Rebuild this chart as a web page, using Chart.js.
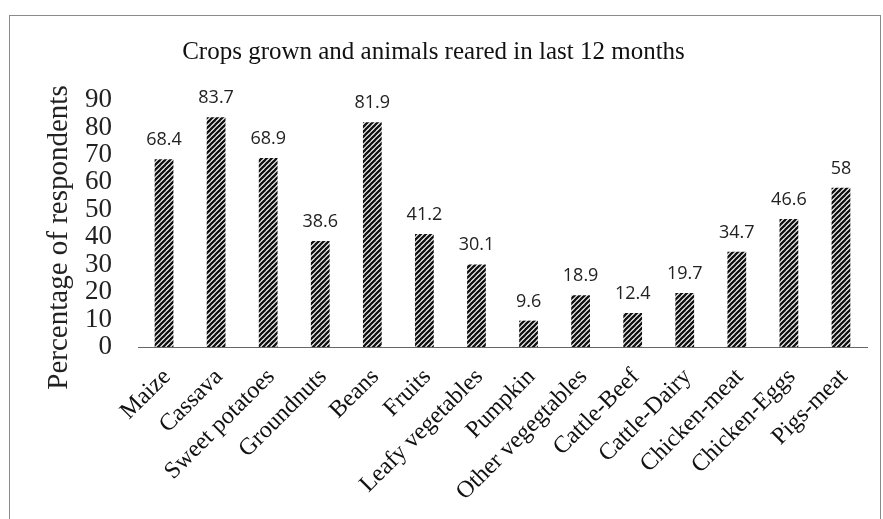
<!DOCTYPE html>
<html><head><meta charset="utf-8">
<script src="https://cdn.jsdelivr.net/npm/chart.js@4/dist/chart.umd.min.js"></script>
<style>
html,body{margin:0;padding:0;background:#fff;}
#wrap{position:relative;width:883px;height:519px;overflow:hidden;}
#frame{position:absolute;left:9px;top:15px;width:872px;height:600px;border:1px solid #8a8a8a;box-sizing:border-box;}
canvas{position:absolute;left:0;top:0;}
</style></head>
<body><div id="wrap"><div id="frame"></div><canvas id="c" width="883" height="519"></canvas></div>
<script>
const categories = ["Maize","Cassava","Sweet potatoes","Groundnuts","Beans","Fruits","Leafy vegetables","Pumpkin","Other vegegtables","Cattle-Beef","Cattle-Dairy","Chicken-meat","Chicken-Eggs","Pigs-meat"];
const percentages = [68.4,83.7,68.9,38.6,81.9,41.2,30.1,9.6,18.9,12.4,19.7,34.7,46.6,58];
const valueLabels = ["68.4","83.7","68.9","38.6","81.9","41.2","30.1","9.6","18.9","12.4","19.7","34.7","46.6","58"];
const yTicks = [0,10,20,30,40,50,60,70,80,90];
const yTitle = "Percentage of respondents";

function hatch(){
  const s=5, p=document.createElement('canvas'); p.width=s; p.height=s;
  const g=p.getContext('2d'); g.fillStyle='#fff'; g.fillRect(0,0,s,s);
  g.strokeStyle='#111'; g.lineWidth=2.3; g.lineCap='square';
  for(const o of [-s,0,s]){ g.beginPath(); g.moveTo(o,s); g.lineTo(o+s,0); g.stroke(); }
  return g.createPattern(p,'repeat');
}
const ctx=document.getElementById('c').getContext('2d');
const labelPlugin={id:'vals',afterDatasetsDraw(chart){
  const c=chart.ctx; const meta=chart.getDatasetMeta(0);
  c.save(); c.font='18px "Open Sans"'; c.fillStyle='#222'; c.textAlign='center'; c.textBaseline='alphabetic';
  meta.data.forEach((b,i)=>{ c.fillText(valueLabels[i], b.x, b.y-14); });
  c.restore();
  const a=chart.chartArea;
  c.save(); c.font='29px "Liberation Serif"'; c.fillStyle='#222'; c.textAlign='center'; c.textBaseline='middle';
  c.translate(59,(a.top+a.bottom)/2+14); c.rotate(-Math.PI/2); c.fillText(yTitle,0,0); c.restore();
}};
new Chart(ctx,{
  type:'bar',
  data:{labels:categories,datasets:[{data:percentages,backgroundColor:hatch(),borderWidth:0,categoryPercentage:1,barPercentage:0.36}]},
  options:{
    responsive:false,animation:false,
    layout:{padding:{left:0,right:16,top:37,bottom:0}},
    plugins:{legend:{display:false},tooltip:{enabled:false},
      title:{display:true,text:'Crops grown and animals reared in last 12 months',color:'#111',font:{family:'Liberation Serif',size:25,weight:'normal',lineHeight:1.2},padding:{top:0,bottom:33}}},
    scales:{
      y:{min:0,max:90,afterBuildTicks(s){s.ticks=yTicks.map(v=>({value:v}));},
        afterFit(s){s.width=138;},
        grid:{display:false,drawTicks:false},border:{display:false},
        ticks:{color:'#222',font:{family:'Liberation Serif',size:27},padding:26,autoSkip:false}},
      x:{afterFit(s){s.height=172;},
        grid:{display:false},border:{display:true,color:'#666',width:1},
        ticks:{color:'#111',font:{family:'Liberation Serif',size:24},minRotation:45,maxRotation:45,padding:8,labelOffset:3,autoSkip:false}}
    }
  },
  plugins:[labelPlugin]
});
</script></body></html>
